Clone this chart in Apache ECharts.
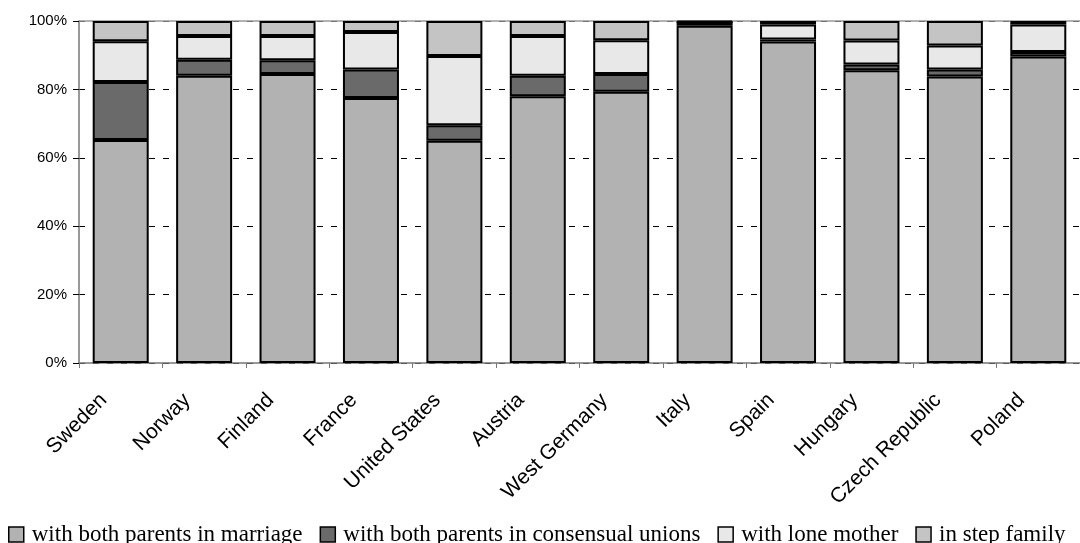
<!DOCTYPE html>
<html>
<head>
<meta charset="utf-8">
<script src="https://cdn.jsdelivr.net/npm/echarts@6/dist/echarts.min.js"></script>
<style>html,body{margin:0;padding:0;background:#fff}#c{width:1080px;height:543px}</style>
</head>
<body>
<div id="c"></div>
<script>
const categories = ['Sweden','Norway','Finland','France','United States','Austria','West Germany','Italy','Spain','Hungary','Czech Republic','Poland'];
const marriage   = [65.2, 84.0, 84.5, 77.5, 65.0, 78.0, 79.3, 98.6, 94.0, 85.6, 83.8, 89.6];
const consensual = [17.0,  4.7,  4.0,  8.3,  4.5,  6.0,  5.2,  1.1,  0.6,  1.7,  2.0,  1.3];
const loneMother = [11.9,  6.9,  7.1, 11.0, 20.3, 11.6,  9.9,  0.0,  4.4,  7.0,  7.0,  8.1];
const stepFamily = [ 5.9,  4.4,  4.4,  3.2, 10.2,  4.4,  5.6,  0.3,  1.0,  5.7,  7.2,  1.0];
const yTicks = [0, 20, 40, 60, 80, 100];
const seriesNames = ['with both parents in marriage','with both parents in consensual unions','with lone mother','in step family'];
const seriesColors = ['#b2b2b2','#6a6a6a','#e8e8e8','#c4c4c4'];
const seriesData = [marriage, consensual, loneMother, stepFamily];

const chart = echarts.init(document.getElementById('c'), null, {renderer:'canvas'});
chart.setOption({
  animation: false,
  grid: {left: 79, top: 21, width: 1007, height: 342, containLabel: false},
  legend: {
    left: 8, top: 523, width: 1600, padding: 0,
    itemWidth: 15, itemHeight: 15, itemGap: 17,
    icon: 'rect',
    textStyle: {fontFamily: 'Liberation Serif', fontSize: 23, color: '#000', padding: [0,0,0,3]},
    itemStyle: {borderColor: '#000', borderWidth: 1.5},
    data: seriesNames
  },
  xAxis: [{
    type: 'category', data: categories,
    axisLine: {lineStyle: {color: '#777', width: 1.5}},
    axisTick: {show: true, length: 5, lineStyle: {color: '#777'}},
    axisLabel: {rotate: 45, margin: 17, padding: [0, 24, 0, 0], fontFamily: 'Liberation Sans', fontSize: 21, color: '#000', interval: 0}
  },{
    type: 'category', data: categories, position: 'top',
    axisLine: {lineStyle: {color: '#999', width: 1.5}},
    axisTick: {show: false}, axisLabel: {show: false}
  }],
  yAxis: {
    type: 'value', min: yTicks[0], max: yTicks[yTicks.length-1], interval: 20,
    axisLine: {show: true, lineStyle: {color: '#777', width: 1.5}},
    axisTick: {show: true, length: 6, lineStyle: {color: '#000'}},
    axisLabel: {formatter: '{value}%', fontFamily: 'Liberation Sans', fontSize: 15, color: '#000', margin: 12},
    splitLine: {show: true, lineStyle: {color: '#000', type: [6,8], width: 1}}
  },
  series: seriesNames.map((n, i) => ({
    name: n, type: 'bar', stack: 'total', barWidth: 56,
    data: seriesData[i],
    itemStyle: {color: seriesColors[i], borderColor: '#000', borderWidth: 2}
  }))
});
</script>
</body>
</html>
